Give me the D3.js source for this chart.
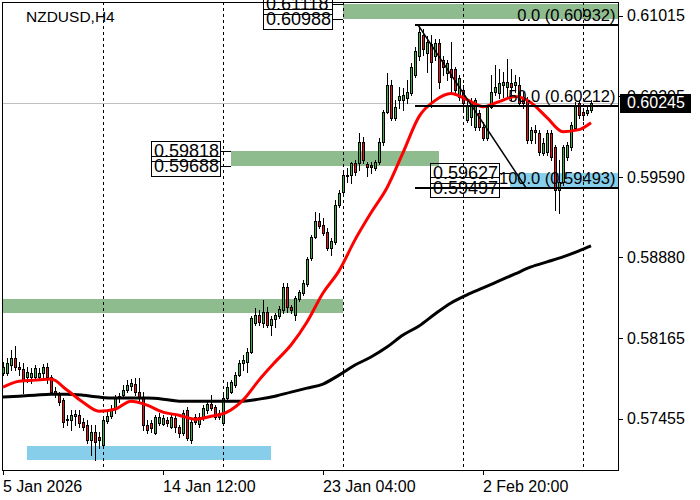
<!DOCTYPE html>
<html>
<head>
<meta charset="utf-8">
<script src="https://cdn.jsdelivr.net/npm/d3@7"></script>
<style>
  body { margin: 0; background: #fff; }
  svg { display: block; }
  text { font-family: "Liberation Sans", Arial, sans-serif; }
</style>
</head>
<body>
<svg width="700" height="500"></svg>
<script>
var symbol = "NZDUSD,H4";

// H4 bars, left to right (bar 0 = 5 Jan 20:00)
var opens = [0.57856,0.57856,0.57927,0.57989,0.57909,0.57891,0.57821,0.57821,0.57821,0.57821,
  0.57856,0.57909,0.57821,0.57697,0.57661,0.57617,0.57449,0.57440,0.57475,0.57484,
  0.57422,0.57396,0.57263,0.57334,0.57290,0.57219,0.57431,0.57475,0.57537,0.57635,
  0.57661,0.57706,0.57741,0.57759,0.57688,0.57644,0.57396,0.57413,0.57325,0.57413,
  0.57405,0.57440,0.57378,0.57458,0.57378,0.57325,0.57529,0.57263,0.57467,0.57405,
  0.57458,0.57529,0.57582,0.57555,0.57502,0.57413,0.57635,0.57688,0.57750,0.57838,
  0.57944,0.57953,0.58042,0.58298,0.58369,0.58298,0.58396,0.58281,0.58334,0.58360,
  0.58414,0.58617,0.58440,0.58369,0.58511,0.58564,0.58644,0.58874,0.59060,0.59201,
  0.59166,0.59104,0.58962,0.59015,0.59343,0.59458,0.59608,0.59608,0.59714,0.59714,
  0.59900,0.59706,0.59697,0.59670,0.59723,0.59900,0.60166,0.60405,0.60113,0.60272,
  0.60272,0.60290,0.60334,0.60493,0.60653,0.60847,0.60688,0.60759,0.60653,0.60776,
  0.60626,0.60511,0.60538,0.60538,0.60299,0.60361,0.60095,0.60122,0.60033,0.60157,
  0.60033,0.59936,0.60210,0.60343,0.60334,0.60405,0.60387,0.60422,0.60405,0.60405,
  0.60299,0.60272,0.59918,0.60007,0.59980,0.59803,0.59812,0.59980,0.59856,0.59476,
  0.59546,0.59768,0.59856,0.60024,0.60245,0.60166,0.60157,0.60184];
var highs = [0.57953,0.57989,0.58060,0.58095,0.57953,0.57944,0.57909,0.57900,0.57927,0.57900,
  0.57936,0.57944,0.57838,0.57732,0.57688,0.57635,0.57484,0.57529,0.57529,0.57529,
  0.57458,0.57440,0.57396,0.57396,0.57334,0.57458,0.57511,0.57573,0.57661,0.57679,
  0.57750,0.57794,0.57803,0.57812,0.57812,0.57688,0.57440,0.57440,0.57484,0.57502,
  0.57484,0.57467,0.57484,0.57484,0.57396,0.57529,0.57555,0.57458,0.57493,0.57502,
  0.57573,0.57599,0.57661,0.57573,0.57529,0.57661,0.57776,0.57794,0.57865,0.57971,
  0.58015,0.58077,0.58360,0.58431,0.58414,0.58502,0.58440,0.58360,0.58387,0.58449,
  0.58652,0.58652,0.58458,0.58537,0.58591,0.58679,0.58883,0.59077,0.59281,0.59272,
  0.59228,0.59139,0.59051,0.59387,0.59476,0.59635,0.59670,0.59723,0.59741,0.59980,
  0.59945,0.59723,0.59723,0.59741,0.59936,0.60184,0.60511,0.60449,0.60272,0.60387,
  0.60378,0.60449,0.60599,0.60741,0.60932,0.60892,0.60830,0.60847,0.60803,0.60803,
  0.60653,0.60626,0.60785,0.60564,0.60493,0.60405,0.60272,0.60290,0.60290,0.60184,
  0.60077,0.60228,0.60493,0.60582,0.60538,0.60520,0.60635,0.60538,0.60493,0.60476,
  0.60343,0.60299,0.60033,0.60051,0.60007,0.59936,0.60007,0.60007,0.59874,0.59741,
  0.59874,0.59900,0.60077,0.60254,0.60272,0.60201,0.60228,0.60272];
var lows = [0.57838,0.57838,0.57883,0.57883,0.57838,0.57679,0.57776,0.57767,0.57794,0.57794,
  0.57812,0.57767,0.57679,0.57644,0.57573,0.57378,0.57396,0.57352,0.57396,0.57378,
  0.57352,0.57236,0.57130,0.57086,0.57192,0.57201,0.57413,0.57458,0.57502,0.57599,
  0.57644,0.57688,0.57706,0.57661,0.57599,0.57352,0.57325,0.57334,0.57316,0.57396,
  0.57396,0.57387,0.57369,0.57334,0.57290,0.57307,0.57263,0.57236,0.57405,0.57378,
  0.57440,0.57502,0.57529,0.57449,0.57449,0.57396,0.57617,0.57679,0.57732,0.57829,
  0.57883,0.57865,0.58033,0.58281,0.58281,0.58263,0.58263,0.58192,0.58263,0.58343,
  0.58387,0.58396,0.58387,0.58325,0.58493,0.58546,0.58626,0.58856,0.59051,0.59139,
  0.59077,0.58945,0.58900,0.58998,0.59325,0.59440,0.59546,0.59537,0.59608,0.59653,
  0.59714,0.59599,0.59626,0.59653,0.59706,0.59874,0.60157,0.60095,0.60095,0.60201,
  0.60184,0.60245,0.60316,0.60476,0.60626,0.60670,0.60520,0.60210,0.60626,0.60378,
  0.60493,0.60449,0.60334,0.60316,0.60272,0.60166,0.60077,0.60051,0.60007,0.60007,
  0.59918,0.59918,0.60201,0.60316,0.60290,0.60299,0.60299,0.60272,0.60343,0.60228,
  0.60201,0.59891,0.59891,0.59891,0.59785,0.59785,0.59785,0.59741,0.59299,0.59272,
  0.59520,0.59741,0.59830,0.60007,0.60113,0.60095,0.60139,0.60166];
var closes = [0.57909,0.57944,0.57989,0.57909,0.57891,0.57794,0.57865,0.57856,0.57900,0.57856,
  0.57909,0.57821,0.57688,0.57679,0.57599,0.57422,0.57440,0.57484,0.57493,0.57413,
  0.57378,0.57263,0.57334,0.57245,0.57263,0.57440,0.57475,0.57537,0.57644,0.57652,
  0.57706,0.57750,0.57767,0.57688,0.57644,0.57396,0.57352,0.57369,0.57467,0.57467,
  0.57458,0.57413,0.57467,0.57378,0.57325,0.57502,0.57281,0.57422,0.57422,0.57467,
  0.57546,0.57582,0.57546,0.57467,0.57467,0.57635,0.57732,0.57776,0.57838,0.57944,
  0.57971,0.58042,0.58343,0.58369,0.58307,0.58396,0.58281,0.58334,0.58369,0.58422,
  0.58617,0.58440,0.58414,0.58520,0.58573,0.58652,0.58865,0.59060,0.59201,0.59157,
  0.59095,0.58962,0.59024,0.59343,0.59449,0.59608,0.59599,0.59714,0.59635,0.59900,
  0.59741,0.59679,0.59679,0.59723,0.59900,0.60166,0.60405,0.60113,0.60210,0.60307,
  0.60316,0.60343,0.60564,0.60697,0.60865,0.60715,0.60785,0.60608,0.60776,0.60431,
  0.60564,0.60591,0.60476,0.60361,0.60467,0.60245,0.60228,0.60254,0.60272,0.60033,
  0.59936,0.60210,0.60343,0.60387,0.60422,0.60431,0.60431,0.60387,0.60431,0.60245,
  0.60245,0.59918,0.60007,0.59989,0.59812,0.59891,0.59980,0.59768,0.59476,0.59546,
  0.59856,0.59874,0.60051,0.60228,0.60139,0.60139,0.60184,0.60245];

// moving averages at these bars
var maBars = [0,4,8,12,16,20,24,28,32,36,40,44,48,52,56,60,64,68,72,76,80,84,88,92,96,
  100,104,108,112,116,120,124,128,132,136,140,144,147];
var maFast = [0.57732,0.57785,0.57794,0.57803,0.57706,0.57599,0.57520,0.57537,0.57608,0.57573,
  0.57511,0.57484,0.57449,0.57475,0.57511,0.57617,0.57794,0.57953,0.58104,0.58307,
  0.58564,0.58759,0.59033,0.59272,0.59493,0.59803,0.60122,0.60263,0.60325,0.60272,
  0.60210,0.60254,0.60299,0.60245,0.60113,0.59989,0.60007,0.60068];
var maSlow = [0.57644,0.57652,0.57661,0.57670,0.57670,0.57661,0.57644,0.57635,0.57635,0.57635,
  0.57626,0.57608,0.57608,0.57608,0.57608,0.57608,0.57626,0.57652,0.57688,0.57723,
  0.57759,0.57838,0.57927,0.57998,0.58086,0.58192,0.58272,0.58378,0.58475,0.58547,
  0.58608,0.58670,0.58732,0.58794,0.58838,0.58883,0.58936,0.58980];

var lastPrice = 0.60245;
var priceTicks = [0.61015, 0.60305, 0.59590, 0.58880, 0.58165, 0.57455];
var timeTickBars = [0, 40, 80, 120];
var timeTickLabels = ["5 Jan 2026", "14 Jan 12:00", "23 Jan 04:00", "2 Feb 20:00"];
var separatorBars = [25, 55, 85, 115, 145];

// rectangle objects
var zoneStartBar = [85, 57, -10, 6, 126.75];
var zoneEndBar = [170, 109, 85, 67, 170];
var zoneHigh = [0.61118, 0.59818, 0.58515, 0.57215, 0.59627];
var zoneLow = [0.60988, 0.59688, 0.58385, 0.57085, 0.59497];
var zoneKind = ["sell", "sell", "sell", "buy", "buy"];
var zoneTagged = [true, true, false, false, true];

// fibonacci
var fibFromBar = 103.75, fibToBar = 130.75;
var fibLevels = [0, 50, 100];
var fibPrices = [0.60932, 0.60212, 0.59493];

var svg = d3.select("svg"),
    width = +svg.attr("width"),
    height = +svg.attr("height");

var pLeft = 2, pRight = 618, pTop = 2, pBottom = 470;

var x = d3.scaleLinear().domain([0, 147]).range([3, 591]);
var y = d3.scaleLinear().domain([0.57455, 0.61015]).range([418.5, 15.5]);
var zoneColor = d3.scaleOrdinal().domain(["sell", "buy"]).range(["#8fbc8f", "#87ceeb"]);

svg.append("defs").append("clipPath").attr("id", "plotClip")
  .append("rect")
    .attr("x", pLeft).attr("y", pTop)
    .attr("width", pRight - pLeft).attr("height", pBottom - pTop);

var plot = svg.append("g").attr("clip-path", "url(#plotClip)");

var zones = zoneStartBar.map(function(s, i) {
  return {start: s, end: zoneEndBar[i], hi: zoneHigh[i], lo: zoneLow[i], kind: zoneKind[i], tagged: zoneTagged[i]};
});

plot.append("g").selectAll("rect")
  .data(zones)
  .enter().append("rect")
    .attr("x", function(d) { return Math.round(x(d.start)); })
    .attr("width", function(d) { return Math.round(x(d.end)) - Math.round(x(d.start)); })
    .attr("y", function(d) { return Math.round(y(d.hi)); })
    .attr("height", function(d) { return Math.round(y(d.lo)) - Math.round(y(d.hi)); })
    .attr("fill", function(d) { return zoneColor(d.kind); });

// period separators
plot.append("g").selectAll("line")
  .data(separatorBars)
  .enter().append("line")
    .attr("x1", function(d) { return Math.round(x(d)) + 0.5; })
    .attr("x2", function(d) { return Math.round(x(d)) + 0.5; })
    .attr("y1", pTop).attr("y2", pBottom)
    .attr("stroke", "#000")
    .attr("stroke-dasharray", "3,3");

// bid line
plot.append("line")
  .attr("x1", pLeft).attr("x2", pRight)
  .attr("y1", Math.round(y(lastPrice)) + 0.5).attr("y2", Math.round(y(lastPrice)) + 0.5)
  .attr("stroke", "#c0c0c0");

var bars = opens.map(function(o, i) {
  return {i: i, o: o, h: highs[i], l: lows[i], c: closes[i]};
});

var candle = plot.append("g").selectAll("g")
  .data(bars)
  .enter().append("g");

candle.append("line")
  .attr("x1", function(d) { return Math.round(x(d.i)) + 0.5; })
  .attr("x2", function(d) { return Math.round(x(d.i)) + 0.5; })
  .attr("y1", function(d) { return Math.round(y(d.h)); })
  .attr("y2", function(d) { return Math.round(y(d.l)) + 1; })
  .attr("stroke", "#000");

candle.append("rect")
  .attr("x", function(d) { return Math.round(x(d.i)) - 0.5; })
  .attr("width", 2)
  .attr("y", function(d) { return Math.round(y(Math.max(d.o, d.c))) + 0.5; })
  .attr("height", function(d) {
    return Math.max(0, Math.round(y(Math.min(d.o, d.c))) - Math.round(y(Math.max(d.o, d.c))));
  })
  .attr("fill", function(d) { return d.c >= d.o ? "#3fae45" : "#ee1111"; })
  .attr("stroke", "#000");

var ma = d3.line()
  .x(function(d) { return x(d[0]); })
  .y(function(d) { return y(d[1]); })
  .curve(d3.curveMonotoneX);

plot.append("path")
  .datum(maBars.map(function(b, i) { return [b, maSlow[i]]; }))
  .attr("d", ma)
  .attr("fill", "none")
  .attr("stroke", "#000")
  .attr("stroke-width", 3);

plot.append("path")
  .datum(maBars.map(function(b, i) { return [b, maFast[i]]; }))
  .attr("d", ma)
  .attr("fill", "none")
  .attr("stroke", "#ff0000")
  .attr("stroke-width", 3);

// fibonacci retracement
plot.append("line")
  .attr("x1", x(fibFromBar)).attr("y1", y(fibPrices[0]))
  .attr("x2", x(fibToBar)).attr("y2", y(fibPrices[2]))
  .attr("stroke", "#000").attr("stroke-width", 1.5);

var fib = plot.append("g").selectAll("g")
  .data(fibLevels)
  .enter().append("g");

fib.append("line")
  .attr("x1", x(fibFromBar) - 3).attr("x2", pRight)
  .attr("y1", function(d, i) { return Math.round(y(fibPrices[i])); })
  .attr("y2", function(d, i) { return Math.round(y(fibPrices[i])); })
  .attr("stroke", "#000").attr("stroke-width", 2);

fib.append("text")
  .attr("x", pRight - 2.5)
  .attr("y", function(d, i) { return Math.round(y(fibPrices[i])) - 4; })
  .attr("text-anchor", "end")
  .attr("font-size", "16.5px")
  .text(function(d, i) { return d.toFixed(1) + " (" + fibPrices[i].toFixed(5) + ")"; });

// price tags on the rectangles
var tags = [];
zones.forEach(function(d) {
  if (!d.tagged) return;
  tags.push({p: d.hi, edge: Math.round(x(d.start))});
  tags.push({p: d.lo, edge: Math.round(x(d.start))});
});

var tag = svg.append("g").selectAll("g")
  .data(tags)
  .enter().append("g");

tag.append("line")
  .attr("x1", function(d) { return d.edge - 10; })
  .attr("x2", function(d) { return d.edge; })
  .attr("y1", function(d) { return Math.round(y(d.p)) + 0.5; })
  .attr("y2", function(d) { return Math.round(y(d.p)) + 0.5; })
  .attr("stroke", "#000");

tag.append("text")
  .attr("x", function(d) { return d.edge - 77; })
  .attr("y", function(d) { return y(d.p); })
  .attr("dy", "0.36em")
  .attr("font-size", "18px")
  .text(function(d) { return d.p.toFixed(5); });

tag.insert("rect", "text")
  .attr("x", function(d) { return d.edge - 79.5; })
  .attr("y", function(d) { return Math.round(y(d.p)) - 10 + 0.5; })
  .attr("width", 69)
  .attr("height", 20)
  .attr("fill", "none")
  .attr("stroke", "#000");

// frame
svg.append("rect")
  .attr("x", pLeft + 0.5).attr("y", pTop + 0.5)
  .attr("width", pRight - pLeft).attr("height", pBottom - pTop)
  .attr("fill", "none").attr("stroke", "#000");

svg.append("text")
  .attr("x", 26).attr("y", 16)
  .attr("dy", "0.36em")
  .attr("font-size", "15.5px")
  .text(symbol);

// price axis
var pAxis = svg.append("g").selectAll("g")
  .data(priceTicks)
  .enter().append("g");

pAxis.append("line")
  .attr("x1", pRight).attr("x2", pRight + 5)
  .attr("y1", function(d) { return Math.round(y(d)) + 0.5; })
  .attr("y2", function(d) { return Math.round(y(d)) + 0.5; })
  .attr("stroke", "#000");

pAxis.append("text")
  .attr("x", pRight + 9)
  .attr("y", function(d) { return y(d); })
  .attr("dy", "0.36em")
  .attr("font-size", "16px")
  .text(function(d) { return d.toFixed(5); });

svg.append("rect")
  .attr("x", pRight + 2).attr("y", Math.round(y(lastPrice)) - 9)
  .attr("width", 71).attr("height", 19)
  .attr("fill", "#000");

svg.append("text")
  .attr("x", pRight + 9)
  .attr("y", y(lastPrice))
  .attr("dy", "0.36em")
  .attr("font-size", "16px")
  .attr("fill", "#fff")
  .text(lastPrice.toFixed(5));

// time axis
var tAxis = svg.append("g").selectAll("g")
  .data(timeTickBars)
  .enter().append("g");

tAxis.append("line")
  .attr("x1", function(d) { return Math.round(x(d)) + 0.5; })
  .attr("x2", function(d) { return Math.round(x(d)) + 0.5; })
  .attr("y1", pBottom).attr("y2", pBottom + 5)
  .attr("stroke", "#000");

tAxis.append("text")
  .attr("x", function(d) { return x(d); })
  .attr("y", 486)
  .attr("dy", "0.36em")
  .attr("font-size", "16px")
  .text(function(d, i) { return timeTickLabels[i]; });
</script>
</body>
</html>
